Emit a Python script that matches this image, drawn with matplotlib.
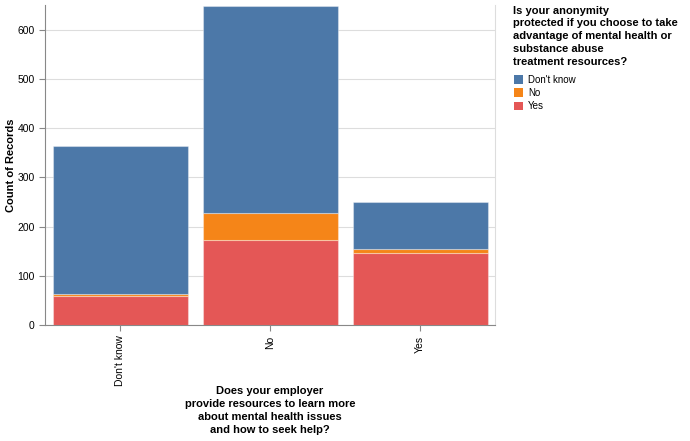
import matplotlib.pyplot as plt
from matplotlib.patches import Patch
import numpy as np

plt.rcParams['font.family'] = ['Liberation Sans', 'DejaVu Sans']

employer = ["Don't know", "No", "Yes"]
answers = ["Don't know", "No", "Yes"]
# stacked counts per employer answer (bottom -> top: Yes, No, Don't know)
yes_counts = [59, 172, 146]
no_counts = [3, 56, 8]
dontknow_counts = [302, 419, 96]
colors = {"Don't know": "#4c78a8", "No": "#f58518", "Yes": "#e45756"}

W, H = 690, 441
fig = plt.figure(figsize=(6.9, 4.41), dpi=100)
ax = fig.add_axes([45 / W, 116 / H, 450 / W, 320 / H])

x = np.arange(len(employer))
bottom = np.zeros(len(employer))
for name, vals in [("Yes", yes_counts), ("No", no_counts), ("Don't know", dontknow_counts)]:
    ax.bar(x, vals, width=0.9, bottom=bottom, color=colors[name],
           edgecolor=(1, 1, 1, 0.35), linewidth=0.8, zorder=3)
    bottom += np.array(vals)

ax.set_xlim(-0.5, 2.5)
ax.set_ylim(0, 650)
ax.set_yticks(range(0, 700, 100))
ax.set_xticks(x)
ax.set_xticklabels(employer, rotation=90, fontsize=7.5)
ax.tick_params(axis='y', labelsize=7.5, length=4, color='#888888')
ax.tick_params(axis='x', length=4, color='#888888')
ax.grid(axis='y', color='#dddddd', linewidth=0.8, zorder=0)
ax.spines['top'].set_visible(False)
ax.spines['right'].set_color('#dddddd')
ax.spines['left'].set_color('#888888')
ax.spines['bottom'].set_color('#888888')

fig.text(11 / W, 1 - 165 / H, "Count of Records", rotation=90, ha='center', va='center',
         fontsize=8, fontweight='bold')
fig.text(270 / W, 1 - 386 / H,
         "Does your employer\nprovide resources to learn more\nabout mental health issues\nand how to seek help?",
         ha='center', va='top', fontsize=8, fontweight='bold', linespacing=1.36)

fig.text(513 / W, 1 - 5.5 / H,
         "Is your anonymity\nprotected if you choose to take\nadvantage of mental health or\nsubstance abuse\ntreatment resources?",
         ha='left', va='top', fontsize=8, fontweight='bold', linespacing=1.36)

handles = [Patch(facecolor=colors[a], edgecolor='none', label=a) for a in answers]
leg = fig.legend(handles=handles, loc='upper left', bbox_to_anchor=(510 / W, 1 - 71 / H),
                 frameon=False, fontsize=7, handlelength=0.95, handleheight=0.95,
                 handletextpad=0.5, labelspacing=0.32, borderaxespad=0)

fig.savefig("out.png", dpi=100)
